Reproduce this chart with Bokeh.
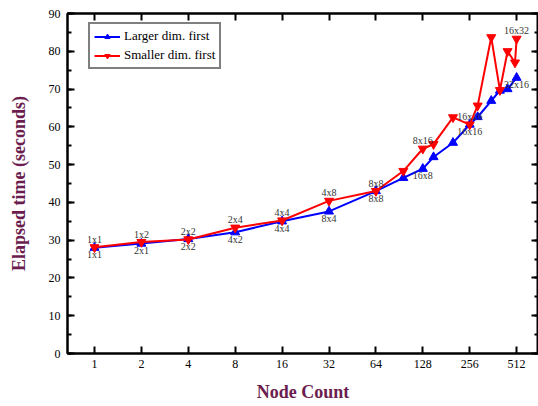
from bokeh.plotting import figure
from bokeh.models import (Range1d, FixedTicker, SingleIntervalTicker, LinearAxis,
                          LogAxis, PrintfTickFormatter, Legend, LegendItem,
                          CustomJSTickFormatter)
from bokeh.core.properties import value
from bokeh.embed import file_html
from bokeh.resources import INLINE

# ---- data ----
x_ticks = [1, 2, 4, 8, 16, 32, 64, 128, 256, 512]

nodes_large = [1, 2, 4, 8, 16, 32, 64, 96, 128, 150, 200, 256, 288, 352, 400, 448, 512]
time_large = [28.0, 29.1, 30.3, 32.1, 35.0, 37.6, 43.0, 46.5, 48.9, 52.0, 55.8, 60.6,
              62.6, 66.9, 69.6, 70.0, 73.0]

nodes_small = [1, 2, 4, 8, 16, 32, 64, 96, 128, 150, 200, 256, 288, 352, 400, 448, 500, 512]
time_small = [28.1, 29.5, 30.2, 33.3, 35.2, 40.4, 43.0, 48.3, 54.2, 55.4, 62.5, 60.6,
              65.6, 83.7, 69.7, 80.0, 77.0, 83.3]

label_nodes = [1, 2, 4, 8, 16, 32, 64, 128, 256, 512]
labels_large = ["1x1", "2x1", "2x2", "4x2", "4x4", "8x4", "8x8", "16x8", "16x16", "32x16"]
labels_small = ["1x1", "1x2", "2x2", "2x4", "4x4", "4x8", "8x8", "8x16", "16x16", "16x32"]

SERIF = "Liberation Serif"
LABEL_COLOR = "#6b1d4f"

p = figure(width=538, height=406, x_axis_type="log",
           x_range=Range1d(0.671, 707.6), y_range=Range1d(0, 90),
           output_backend="svg", toolbar_location=None,
           min_border_left=67, min_border_right=0, min_border_top=13,
           min_border_bottom=53)
p.grid.visible = False
p.outline_line_color = "black"
p.outline_line_width = 2
p.background_fill_color = "white"
p.border_fill_color = "white"

xticker = FixedTicker(ticks=x_ticks, minor_ticks=[])
yticker = SingleIntervalTicker(interval=10, num_minor_ticks=2)

# bottom / left axes
xa = p.xaxis[0]
xa.ticker = xticker
xa.formatter = PrintfTickFormatter(format="%d")
xa.axis_label = "Node Count"
ya = p.yaxis[0]
ya.ticker = yticker
ya.axis_label = "Elapsed time (seconds)"

for ax in (xa, ya):
    ax.axis_line_width = 2
    ax.major_tick_in = 7
    ax.major_tick_out = 0
    ax.major_tick_line_width = 2
    ax.minor_tick_in = 4
    ax.minor_tick_out = 0
    ax.minor_tick_line_width = 2
    ax.major_label_text_font = SERIF
    ax.major_label_text_font_size = "12px"
    ax.major_label_text_color = "black"
    ax.axis_label_text_font = SERIF
    ax.axis_label_text_font_style = "bold"
    ax.axis_label_text_font_size = "18px"
    ax.axis_label_text_color = LABEL_COLOR

xa.major_label_standoff = 6
xa.axis_label_standoff = 11
ya.major_label_standoff = 7
ya.axis_label_standoff = 17

# mirrored axes (top / right), ticks only
blank = CustomJSTickFormatter(code="return '';")
top = LogAxis(ticker=xticker, formatter=blank)
right = LinearAxis(ticker=yticker, formatter=blank)
for ax in (top, right):
    ax.axis_line_width = 2
    ax.major_tick_in = 7
    ax.major_tick_out = 0
    ax.major_tick_line_width = 2
    ax.minor_tick_in = 4
    ax.minor_tick_out = 0
    ax.minor_tick_line_width = 2
    ax.major_label_text_font_size = "0px"
    ax.major_label_standoff = 0
p.add_layout(top, "above")
p.add_layout(right, "right")

# series
lb = p.line(nodes_large, time_large, line_color="#0000ff", line_width=2)
sb = p.scatter(nodes_large, time_large, marker="triangle", size=9,
               fill_color="#0000ff", line_color="#0000ff")
lr = p.line(nodes_small, time_small, line_color="#ff0000", line_width=2)
sr = p.scatter(nodes_small, time_small, marker="inverted_triangle", size=9,
               fill_color="#ff0000", line_color="#ff0000")

# point labels
large_map = dict(zip(nodes_large, time_large))
small_map = dict(zip(nodes_small, time_small))
p.text(x=label_nodes, y=[small_map[n] for n in label_nodes], text=labels_small,
       text_font=value(SERIF), text_font_size=value("10px"), text_color="#333333",
       text_align="center", text_baseline="middle", y_offset=-8)
p.text(x=label_nodes, y=[large_map[n] for n in label_nodes], text=labels_large,
       text_font=value(SERIF), text_font_size=value("10px"), text_color="#333333",
       text_align="center", text_baseline="middle", y_offset=7)

legend = Legend(items=[LegendItem(label="Larger dim. first", renderers=[lb, sb]),
                       LegendItem(label="Smaller dim. first", renderers=[lr, sr])],
                location=(21, 284))
legend.label_text_font = SERIF
legend.label_text_font_size = "13px"
legend.label_text_color = "black"
legend.border_line_color = "black"
legend.border_line_width = 2
legend.padding = 4
legend.spacing = 3
legend.margin = 0
legend.glyph_width = 26
legend.glyph_height = 13
legend.label_height = 13
legend.label_standoff = 4
legend.background_fill_alpha = 1.0
p.add_layout(legend)

open("out.html", "w").write(file_html(p, INLINE))
